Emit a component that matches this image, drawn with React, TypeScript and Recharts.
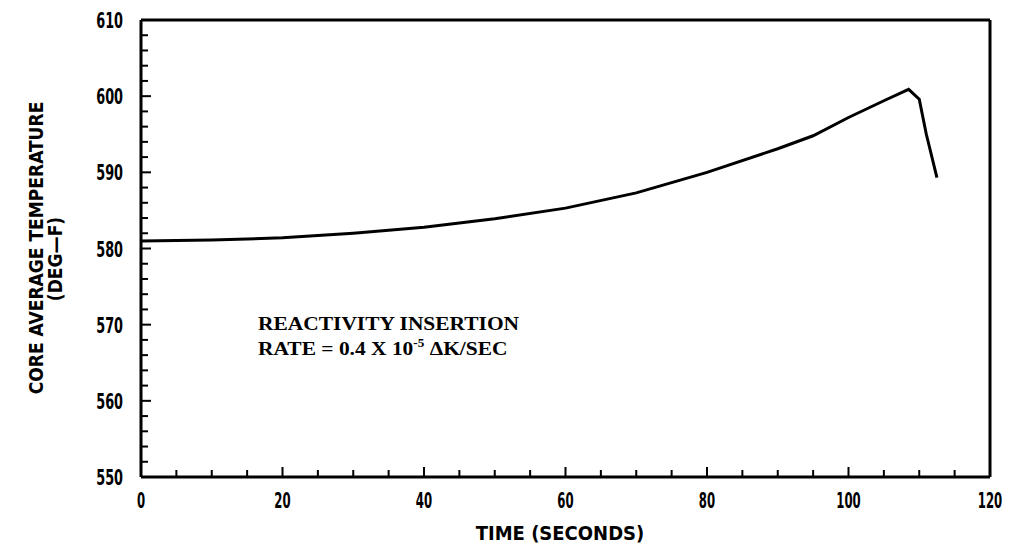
import { LineChart, Line, XAxis, YAxis, ReferenceLine, Customized } from 'recharts'

const timeSec = [0, 10, 20, 30, 40, 50, 60, 70, 80, 90, 95, 100, 105, 108.5, 110, 111, 112.5]
const coreTemp = [581.0, 581.1, 581.4, 582.0, 582.8, 583.9, 585.3, 587.3, 590.0, 593.1, 594.8, 597.2, 599.4, 600.9, 599.6, 595.0, 589.3]

const xTicks = Array.from({ length: 25 }, (_, i) => i * 5)
const yTicks = Array.from({ length: 31 }, (_, i) => 550 + i * 2)

const axisFont = '"DejaVu Sans Condensed", "DejaVu Sans", sans-serif'

const chartData = timeSec.map((t, i) => ({ t, temp: coreTemp[i] }))

function XTick(props: any) {
  const { x, y, payload } = props
  const major = payload.value % 20 === 0
  return (
    <g>
      <line x1={x} x2={x} y1={y} y2={y - (major ? 10 : 7)} stroke="#000" strokeWidth={2} />
      {major && (
        <text
          transform={`translate(${x},${y + 31}) scale(0.62,1)`}
          textAnchor="middle"
          fontFamily={axisFont}
          fontWeight="bold"
          fontSize={21}
          fill="#000"
        >
          {payload.value}
        </text>
      )}
    </g>
  )
}

function YTick(props: any) {
  const { x, y, payload } = props
  const major = payload.value % 10 === 0
  return (
    <g>
      <line x1={x} x2={x + (major ? 10 : 7)} y1={y} y2={y} stroke="#000" strokeWidth={2} />
      {major && (
        <text
          transform={`translate(${x - 18},${y + 8}) scale(0.68,1)`}
          textAnchor="end"
          fontFamily={axisFont}
          fontWeight="bold"
          fontSize={21}
          fill="#000"
        >
          {payload.value}
        </text>
      )}
    </g>
  )
}

function Titles() {
  return (
    <g fontFamily={axisFont} fontWeight="bold" fill="#000">
      <text transform="translate(36,248) rotate(-90)" textAnchor="middle" dominantBaseline="central" fontSize={19}>
        CORE AVERAGE TEMPERATURE
      </text>
      <text transform="translate(55,259) rotate(-90)" textAnchor="middle" dominantBaseline="central" fontSize={19}>
        (DEG—F)
      </text>
      <text x={560} y={540} textAnchor="middle" fontSize={20}>
        TIME (SECONDS)
      </text>
      <g fontFamily='"Liberation Serif", serif' fontSize={19.5} transform="translate(258,0) scale(1.1,1)">
        <text x={0} y={330}>REACTIVITY INSERTION</text>
        <text x={0} y={355}>
          RATE = 0.4 X 10
          <tspan dy={-8} fontSize={12}>-5</tspan>
          <tspan dy={8}> ΔK/SEC</tspan>
        </text>
      </g>
    </g>
  )
}

export default function App() {
  return (
    <div style={{ position: 'absolute', left: 0, top: 0, width: 1013, height: 552, background: '#fff' }}>
      <LineChart width={1013} height={552} data={chartData} margin={{ top: 20, right: 23, left: 0, bottom: 0 }}>
        <XAxis
          dataKey="t"
          type="number"
          domain={[0, 120]}
          ticks={xTicks}
          interval={0}
          height={75}
          tickSize={0}
          tickMargin={0}
          tick={<XTick />}
          axisLine={{ stroke: '#000', strokeWidth: 3 }}
          tickLine={false}
        />
        <YAxis
          type="number"
          domain={[550, 610]}
          ticks={yTicks}
          interval={0}
          width={141}
          tickSize={0}
          tickMargin={0}
          tick={<YTick />}
          axisLine={{ stroke: '#000', strokeWidth: 3 }}
          tickLine={false}
        />
        <ReferenceLine y={610} stroke="#000" strokeWidth={3} />
        <ReferenceLine x={120} stroke="#000" strokeWidth={3} />
        <Line
          dataKey="temp"
          type="linear"
          stroke="#000"
          strokeWidth={3}
          dot={false}
          isAnimationActive={false}
        />
        <Customized component={Titles} />
      </LineChart>
    </div>
  )
}
